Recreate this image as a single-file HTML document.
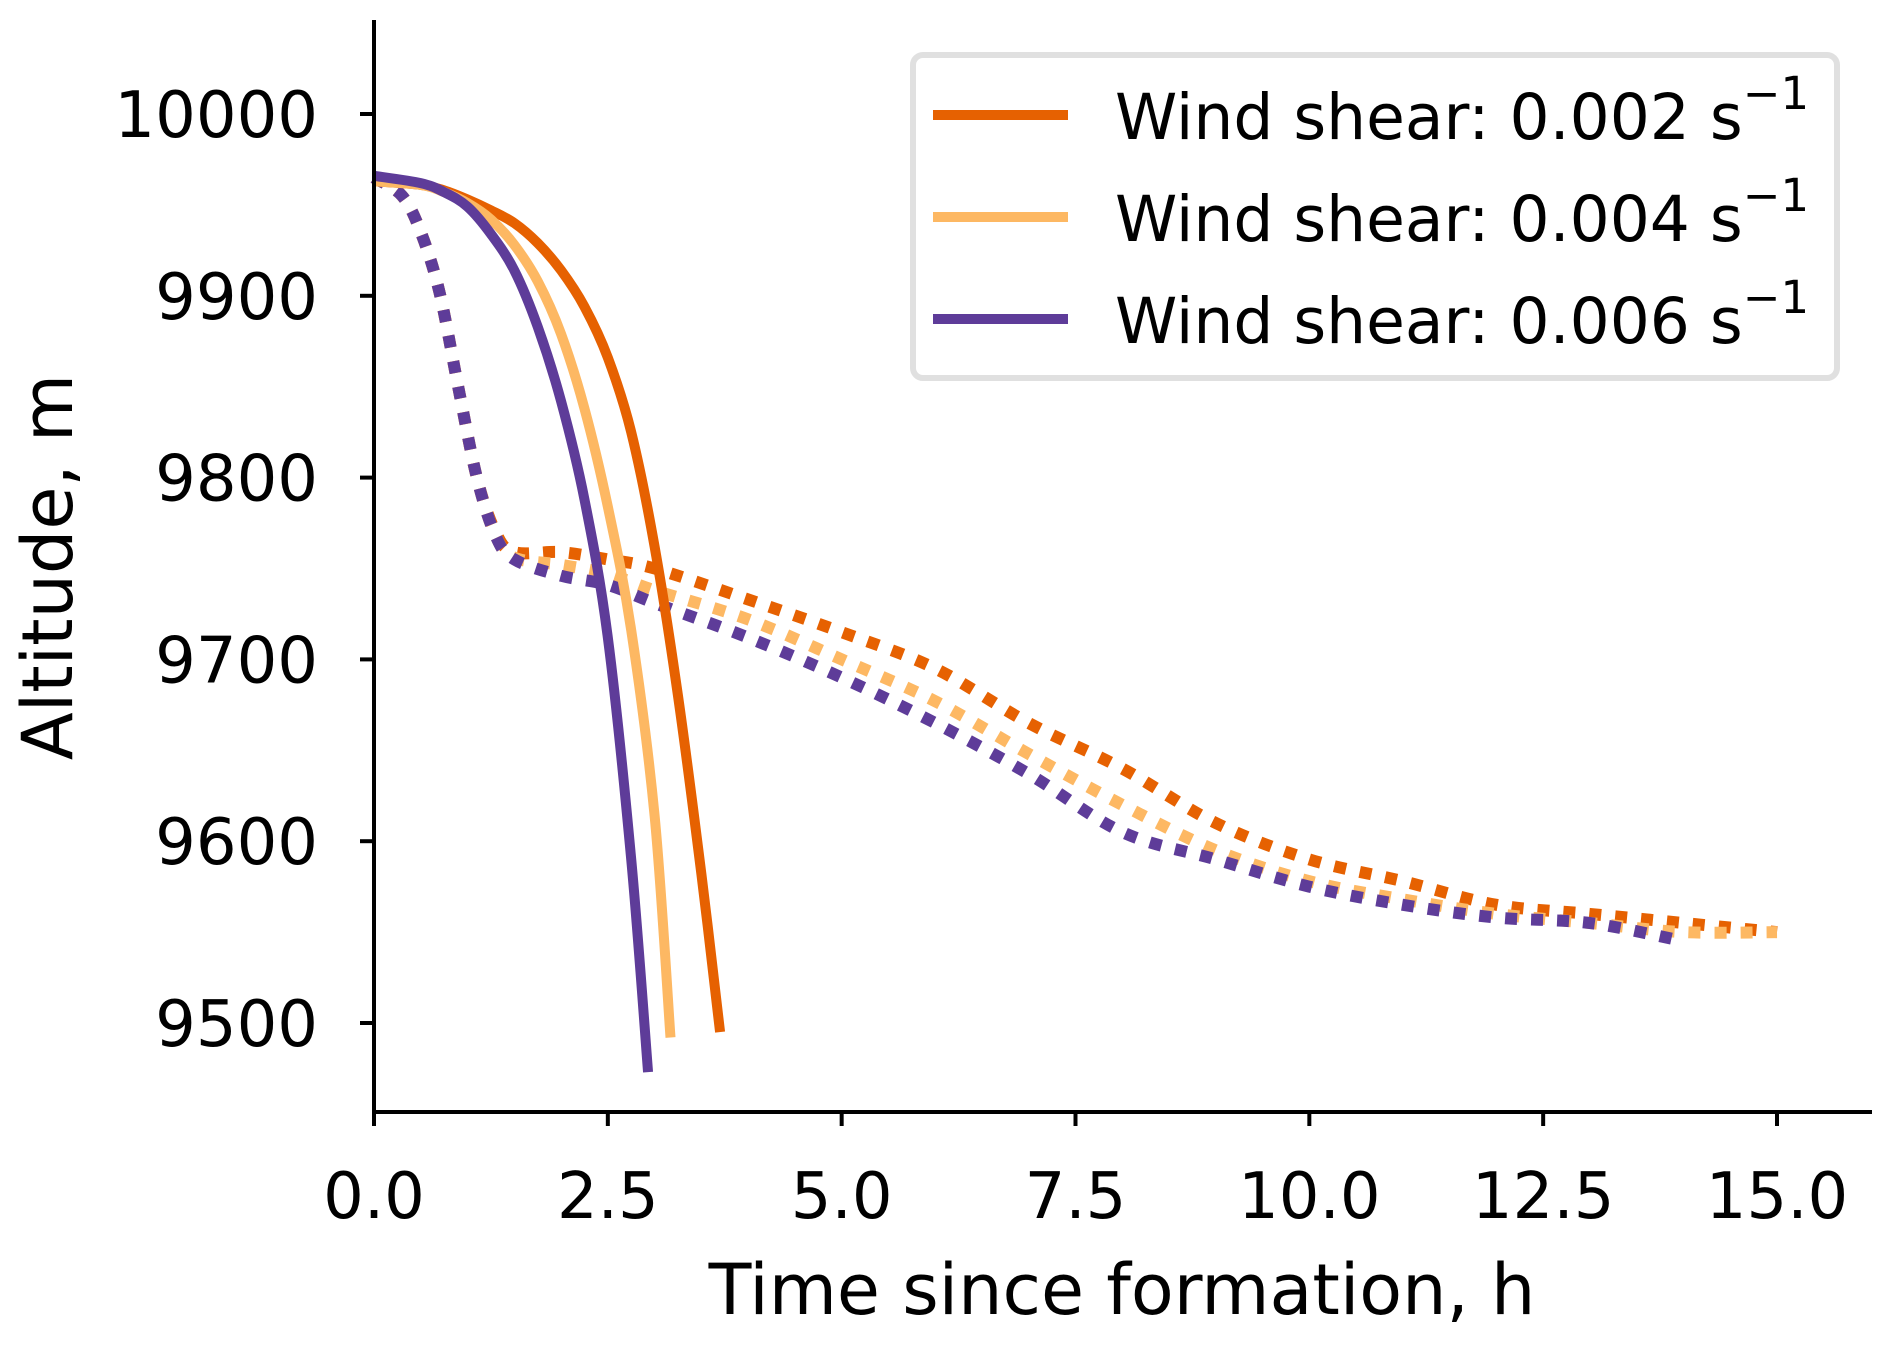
<!DOCTYPE html>
<html><head><meta charset="utf-8"><style>
html,body{margin:0;padding:0;background:#fff;}
svg text{font-family:"DejaVu Sans","Liberation Sans",sans-serif;fill:#000;}
</style></head><body>
<svg id="chart" width="1892" height="1342" viewBox="0 0 1892 1342" xmlns="http://www.w3.org/2000/svg">
<g id="plot"></g>
<g id="axes"></g>
<g id="legend"></g>
</svg>
<script>
const xTicks = [0, 2.5, 5, 7.5, 10, 12.5, 15];
const xTickLabels = ["0.0","2.5","5.0","7.5","10.0","12.5","15.0"];
const yTicks = [9500, 9600, 9700, 9800, 9900, 10000];
const yTickLabels = ["9500","9600","9700","9800","9900","10000"];
const seriesNames = ["Wind shear: 0.002 s", "Wind shear: 0.004 s", "Wind shear: 0.006 s"];
const seriesColors = ["#e66101", "#fdb863", "#5e3c99"];
// solid curves
const solid1T = [0, 0.5, 0.75, 1, 1.25, 1.5, 1.75, 2, 2.25, 2.5, 2.75, 3, 3.25, 3.5, 3.7];
const solid1A = [9963, 9961, 9958, 9953, 9947, 9940, 9929, 9914, 9894, 9866, 9825, 9762, 9680, 9582, 9495];
const solid2T = [0, 0.5, 0.75, 1, 1.25, 1.5, 1.75, 2, 2.25, 2.5, 2.75, 3, 3.17];
const solid2A = [9963, 9961, 9957, 9951, 9942, 9928, 9908, 9879, 9838, 9784, 9716, 9614, 9492];
const solid3T = [0, 0.5, 0.75, 1, 1.25, 1.5, 1.75, 2, 2.25, 2.5, 2.75, 2.93];
const solid3A = [9966, 9962, 9957, 9949, 9934, 9914, 9883, 9842, 9788, 9712, 9590, 9473];
// dotted curves
const dotT = [0, 0.3, 0.5, 0.7, 0.9, 1.1, 1.3, 1.5, 2, 2.5, 3, 4, 5, 6, 7, 8, 9, 10, 11, 12, 13, 14, 15];
const dot1A = [9965, 9955, 9935, 9902, 9850, 9800, 9770, 9759, 9759, 9755, 9750, 9733, 9715, 9695, 9665, 9640, 9610, 9590, 9578, 9565, 9560, 9555, 9550];
const dot2A = [9965, 9955, 9935, 9902, 9850, 9800, 9768, 9756, 9752, 9747, 9738, 9722, 9700, 9677, 9648, 9620, 9595, 9578, 9568, 9560, 9555, 9550, 9550];
const dot3A = [9965, 9955, 9935, 9902, 9850, 9800, 9768, 9755, 9746, 9741, 9731, 9712, 9690, 9665, 9637, 9605, 9590, 9575, 9565, 9558, 9555, 9545];

const NS = "http://www.w3.org/2000/svg";
const X0 = 374, X1 = 1777, Y10000 = 114, Y9500 = 1023;
const xs = t => X0 + (X1 - X0) * t / 15;
const ys = a => Y10000 + (Y9500 - Y10000) * (10000 - a) / 500;
function mk(tag, attrs, parent){const e=document.createElementNS(NS,tag);for(const k in attrs)e.setAttribute(k,attrs[k]);parent.appendChild(e);return e;}
function smoothPath(T, A){
  const p = T.map((t,i)=>[xs(t), ys(A[i])]);
  let d = "M"+p[0][0]+","+p[0][1];
  for(let i=0;i<p.length-1;i++){
    const p0=p[Math.max(0,i-1)],p1=p[i],p2=p[i+1],p3=p[Math.min(p.length-1,i+2)];
    const c1=[p1[0]+(p2[0]-p0[0])/6,p1[1]+(p2[1]-p0[1])/6];
    const c2=[p2[0]-(p3[0]-p1[0])/6,p2[1]-(p3[1]-p1[1])/6];
    d+=" C"+c1[0]+","+c1[1]+" "+c2[0]+","+c2[1]+" "+p2[0]+","+p2[1];
  }
  return d;
}
const plot = document.getElementById("plot");
const dotted = [dot1A, dot2A, dot3A];
dotted.forEach((A,i)=>{
  const el = mk("path",{d:smoothPath(dotT.slice(0,A.length),A),fill:"none",stroke:seriesColors[i],"stroke-width":12,"stroke-dasharray":"12 14"},plot);
  
  
});
const solids = [[solid1T,solid1A],[solid2T,solid2A],[solid3T,solid3A]];
solids.forEach((s,i)=>{
  const el = mk("path",{d:smoothPath(s[0],s[1]),fill:"none",stroke:seriesColors[i],"stroke-width":10},plot);
  
  
});
const axes = document.getElementById("axes");
const ya = mk("line",{x1:374,y1:20,x2:374,y2:1112,stroke:"#000","stroke-width":4},axes);


const xa = mk("line",{x1:372,y1:1112,x2:1872,y2:1112,stroke:"#000","stroke-width":4},axes);


xTicks.forEach((t,i)=>{
  const tk = mk("line",{x1:xs(t),y1:1112,x2:xs(t),y2:1126,stroke:"#000","stroke-width":4},axes);
  
  
  const tx = mk("text",{x:xs(t),y:1218,"text-anchor":"middle","font-size":64},axes);
  tx.textContent = xTickLabels[i];
  
  
});
yTicks.forEach((v,i)=>{
  const tk = mk("line",{x1:360,y1:ys(v),x2:374,y2:ys(v),stroke:"#000","stroke-width":4},axes);
  
  
  const tx = mk("text",{x:318,y:ys(v)+23,"text-anchor":"end","font-size":64},axes);
  tx.textContent = yTickLabels[i];
  
  
});
const xl = mk("text",{x:1122,y:1314,"text-anchor":"middle","font-size":70},axes);
xl.textContent = "Time since formation, h";


const yl = mk("text",{x:0,y:0,"text-anchor":"middle","font-size":70,transform:"translate(72,567) rotate(-90)"},axes);
yl.textContent = "Altitude, m";


const lg = document.getElementById("legend");
const box = mk("rect",{x:913,y:55,width:924,height:323,rx:10,fill:"#fff",stroke:"#e0e0e0","stroke-width":6},lg);


seriesNames.forEach((n,i)=>{
  const y = 115 + i*102;
  const ln = mk("line",{x1:933,y1:y,x2:1068,y2:y,stroke:seriesColors[i],"stroke-width":10},lg);
  
  
  const tx = mk("text",{x:1115,y:y+24,"font-size":63},lg);
  tx.textContent = n;
  const sup = document.createElementNS(NS,"tspan");
  sup.setAttribute("dy","-30");
  sup.setAttribute("font-size","45");
  sup.textContent = "\u22121";
  tx.appendChild(sup);
  
  
});
</script>
</body></html>
